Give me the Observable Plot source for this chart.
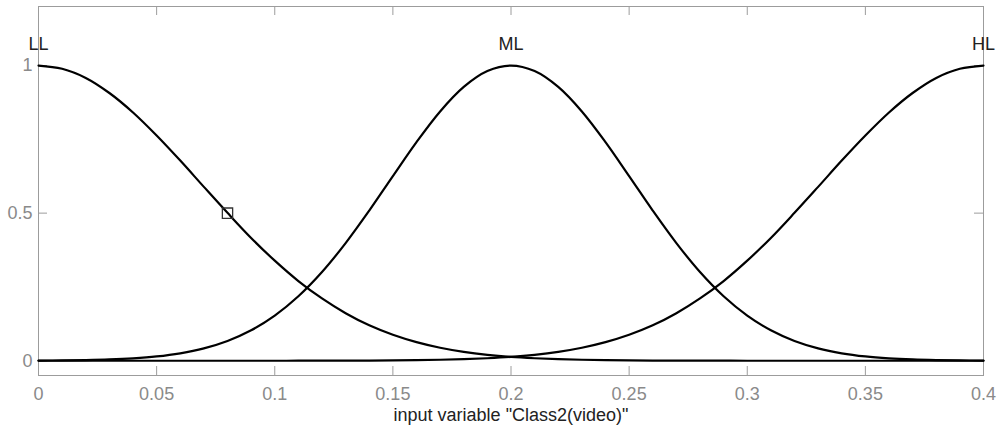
<!DOCTYPE html>
<html>
<head>
<meta charset="utf-8">
<script src="https://cdn.jsdelivr.net/npm/d3@7"></script>
<script src="https://cdn.jsdelivr.net/npm/@observablehq/plot@0.6"></script>
<style>
  html, body { margin: 0; padding: 0; background: #fff; }
</style>
</head>
<body>
<div id="chart"></div>
<script>
// Sample positions along the input variable
const xs = [0, 0.01, 0.02, 0.03, 0.04, 0.05, 0.06, 0.07, 0.08, 0.09,
            0.10, 0.11, 0.12, 0.13, 0.14, 0.15, 0.16, 0.17, 0.18, 0.19,
            0.20, 0.21, 0.22, 0.23, 0.24, 0.25, 0.26, 0.27, 0.28, 0.29,
            0.30, 0.31, 0.32, 0.33, 0.34, 0.35, 0.36, 0.37, 0.38, 0.39, 0.40];

// Membership values
const llValues = [1, 0.989, 0.958, 0.907, 0.841, 0.763, 0.678, 0.589, 0.501, 0.416,
                  0.339, 0.270, 0.211, 0.161, 0.120, 0.088, 0.063, 0.044, 0.030, 0.020,
                  0.013, 0.0085, 0.0053, 0.0033, 0.0020, 0.0012, 0.0007, 0.0004, 0.0002, 0.0001,
                  0, 0, 0, 0, 0, 0, 0, 0, 0, 0, 0];
const mlValues = [0.0005, 0.0011, 0.0023, 0.0044, 0.0082, 0.0146, 0.0252, 0.0418, 0.0669, 0.1031,
                  0.1529, 0.2185, 0.3006, 0.3985, 0.5086, 0.6253, 0.7405, 0.8445, 0.9276, 0.9814,
                  1, 0.9814, 0.9276, 0.8445, 0.7405, 0.6253, 0.5086, 0.3985, 0.3006, 0.2185,
                  0.1529, 0.1031, 0.0669, 0.0418, 0.0252, 0.0146, 0.0082, 0.0044, 0.0023, 0.0011, 0.0005];
const hlValues = [0, 0, 0, 0, 0, 0, 0, 0, 0, 0,
                  0, 0.0001, 0.0002, 0.0004, 0.0007, 0.0012, 0.0020, 0.0033, 0.0053, 0.0085,
                  0.013, 0.020, 0.030, 0.044, 0.063, 0.088, 0.120, 0.161, 0.211, 0.270,
                  0.339, 0.416, 0.501, 0.589, 0.678, 0.763, 0.841, 0.907, 0.958, 0.989, 1];

const mfNames = ["LL", "ML", "HL"];
const mfCenters = [0, 0.2, 0.4];

const xTicks = [0, 0.05, 0.1, 0.15, 0.2, 0.25, 0.3, 0.35, 0.4];
const yTicks = [0, 0.5, 1];

const xLabel = 'input variable "Class2(video)"';
const marker = [{x: 0.08, y: 0.5}];

const series = [llValues, mlValues, hlValues];
const rows = [];
series.forEach((vals, k) => vals.forEach((v, i) => rows.push({mf: mfNames[k], x: xs[i], y: v})));
const labels = mfNames.map((n, i) => ({name: n, x: mfCenters[i]}));

const gray = "#9c9c9c";
const font = "'Liberation Sans', Arial, Helvetica, sans-serif";

const chart = Plot.plot({
  width: 1000,
  height: 433,
  marginLeft: 38,
  marginRight: 17,
  marginTop: 6,
  marginBottom: 58,
  style: {fontFamily: font, background: "#fff"},
  x: {domain: [0, 0.4]},
  y: {domain: [-0.05, 1.2]},
  marks: [
    Plot.frame({stroke: gray, strokeWidth: 1}),
    Plot.ruleX(xTicks, {x: d => d, stroke: gray, insetTop: 360}),
    Plot.ruleX(xTicks, {x: d => d, stroke: gray, insetBottom: 360}),
    Plot.ruleY(yTicks, {y: d => d, stroke: gray, insetRight: 936}),
    Plot.ruleY(yTicks, {y: d => d, stroke: gray, insetLeft: 936}),
    Plot.axisX({ticks: xTicks, tickSize: 0, tickPadding: 12, fontSize: 18, color: "#8a8a8a", label: null, tickFormat: d => String(d)}),
    Plot.axisY({ticks: yTicks, tickSize: 0, tickPadding: 6, fontSize: 18, color: "#8a8a8a", label: null, tickFormat: d => String(d)}),
    Plot.line(rows, {x: "x", y: "y", z: "mf", stroke: "#000", strokeWidth: 2.2, curve: "catmull-rom"}),
    Plot.dot(marker, {x: "x", y: "y", symbol: "square", r: 5.8, stroke: "#333", strokeWidth: 1.3, fill: "none"}),
    Plot.text(labels, {x: "x", text: "name", frameAnchor: "top", dy: 31, fontSize: 18, fill: "#222"}),
    Plot.text([xLabel], {text: d => d, frameAnchor: "bottom", dy: 45, fontSize: 18, fill: "#222"})
  ]
});
document.getElementById("chart").appendChild(chart);
</script>
</body>
</html>
